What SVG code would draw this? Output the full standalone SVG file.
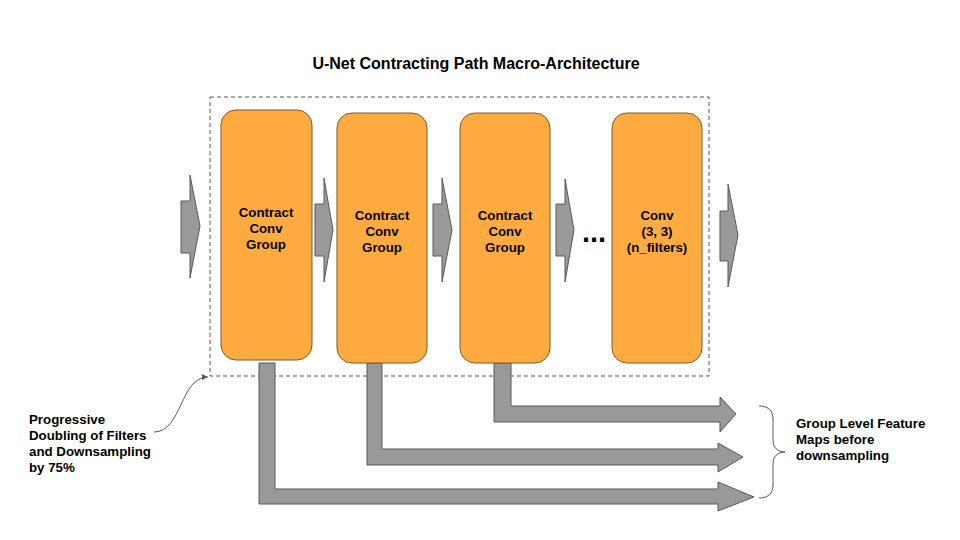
<svg xmlns="http://www.w3.org/2000/svg" width="960" height="540" viewBox="0 0 960 540">
<defs>
<style>
.box{fill:#ffab40;stroke:#7a5a2e;stroke-width:1}
.arr{fill:#999999;stroke:#595959;stroke-width:1}
.t{font-family:"Liberation Sans",Arial,sans-serif;font-weight:bold;font-size:13.3px;fill:#000}
.tc{text-anchor:middle}
.thin{fill:none;stroke:#595959;stroke-width:1}
</style>
<marker id="ah" markerWidth="8" markerHeight="8" refX="6" refY="4" orient="auto" markerUnits="userSpaceOnUse">
<path d="M0,1 L6,4 L0,7 Z" fill="#595959"/>
</marker>
</defs>
<rect width="960" height="540" fill="#ffffff"/>
<text class="t tc" x="476" y="69" style="font-size:16px">U-Net Contracting Path Macro-Architecture</text>
<g id="container">
<rect x="210" y="97" width="499" height="279" fill="none" stroke="#595959" stroke-width="1" stroke-dasharray="4,3"/>
</g>
<g id="connectors">
<path class="arr" d="M181,201 H190 V175 L200,226 L190,278 V253 H181 Z"/>
<path class="arr" d="M315,204 H324 V178 L333,230 L324,282 V256 H315 Z"/>
<path class="arr" d="M433,204 H442 V178 L452,230 L442,282 V256 H433 Z"/>
<path class="arr" d="M556,204 H565 V179 L574,230 L565,282 V256 H556 Z"/>
<path class="arr" d="M720,211 H728 V184 L738,235 L728,287 V261 H720 Z"/>
<path class="arr" d="M494,363 H511 V406 H720 V397 L736,414 L720,432 V422 H494 Z"/>
<path class="arr" d="M367,363 H382 V449 H718 V443 L743,457 L718,472 V465 H367 Z"/>
<path class="arr" d="M259,363 H275 V489 H718 V482 L754,497 L718,511 V504 H259 Z"/>
<path class="thin" d="M154,432 C182,432 180,377 208,377" marker-end="url(#ah)"/>
<path class="thin" d="M759,406 C770,406 773,412 773,420 V440 C773,448 778,452 785,452 C778,452 773,456 773,464 V484 C773,492 770,498 759,498"/>
</g>
<g id="group1">
<rect class="box" x="221" y="110" width="91" height="250" rx="15"/>
<text class="t tc" x="266" y="217">Contract</text>
<text class="t tc" x="266" y="233">Conv</text>
<text class="t tc" x="266" y="249">Group</text>
</g>
<g id="group2">
<rect class="box" x="337" y="113" width="90" height="250" rx="15"/>
<text class="t tc" x="382" y="220">Contract</text>
<text class="t tc" x="382" y="236">Conv</text>
<text class="t tc" x="382" y="252">Group</text>
</g>
<g id="group3">
<rect class="box" x="460" y="113" width="90" height="250" rx="15"/>
<text class="t tc" x="505" y="220">Contract</text>
<text class="t tc" x="505" y="236">Conv</text>
<text class="t tc" x="505" y="252">Group</text>
</g>
<g id="ellipsis">
<text class="t" x="582" y="242" style="font-size:29px">...</text>
</g>
<g id="conv">
<rect class="box" x="612" y="113" width="90" height="250" rx="15"/>
<text class="t tc" x="657" y="220">Conv</text>
<text class="t tc" x="657" y="236">(3, 3)</text>
<text class="t tc" x="657" y="252">(n_filters)</text>
</g>
<g id="label-left">
<text class="t" x="29" y="424">Progressive</text>
<text class="t" x="29" y="440">Doubling of Filters</text>
<text class="t" x="29" y="456">and Downsampling</text>
<text class="t" x="29" y="472">by 75%</text>
</g>
<g id="label-right">
<text class="t" x="796" y="428">Group Level Feature</text>
<text class="t" x="796" y="444">Maps before</text>
<text class="t" x="796" y="460">downsampling</text>
</g>
</svg>
